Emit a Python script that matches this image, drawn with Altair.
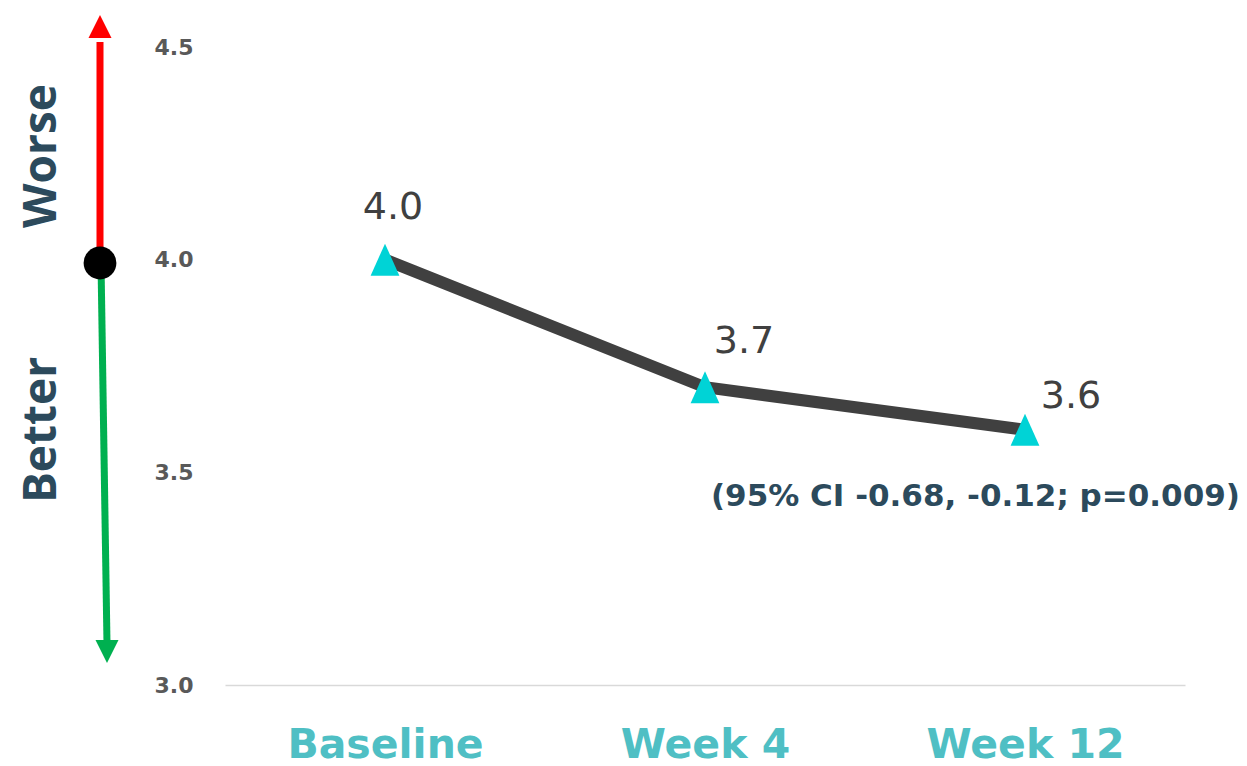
import altair as alt
import pandas as pd

visits = ["Baseline", "Week 4", "Week 12"]
scores = [4.0, 3.7, 3.6]
score_labels = ["4.0", "3.7", "3.6"]
y_ticks = [3.0, 3.5, 4.0, 4.5]
ci_note = "(95% CI -0.68, -0.12; p=0.009)"

df = pd.DataFrame({"visit": visits, "score": scores, "label": score_labels})
one = pd.DataFrame({"k": [0]})

x = alt.X(
    "visit:N", sort=visits,
    scale=alt.Scale(type="point", padding=0.5),
    axis=alt.Axis(title=None, labelAngle=0, labelFont="DejaVu Sans", labelFontSize=41,
                  labelFontWeight="bold", labelColor="#4FBFC4", labelPadding=40,
                  labelLimit=0, ticks=False, domainColor="#D9D9D9", domainWidth=1.5,
                  grid=False),
)
y = alt.Y(
    "score:Q",
    scale=alt.Scale(domain=[3.0, 4.5], nice=False, zero=False),
    axis=alt.Axis(title=None, values=y_ticks, format=".1f", labelFont="DejaVu Sans",
                  labelFontSize=22, labelFontWeight="bold", labelColor="#595959",
                  labelPadding=32, ticks=False, domain=False, grid=False),
)

base = alt.Chart(df)
line = base.mark_line(color="#404040", strokeWidth=12).encode(x=x, y=y)
pts = base.mark_point(shape="M0,-1L-0.9,1L0.9,1Z", size=1024, filled=True,
                      color="#00D3D6", opacity=1).encode(x=x, y=y)

def lab(name, dx, dy):
    return base.transform_filter(alt.datum.visit == name).mark_text(
        font="DejaVu Sans", fontSize=38, color="#404040", align="center",
        baseline="middle", dx=dx, dy=dy).encode(x=x, y=y, text="label:N")

labels = [lab("Baseline", 8, -52), lab("Week 4", 39, -45), lab("Week 12", 46, -33)]

note = alt.Chart(one).mark_text(
    text=ci_note, font="DejaVu Sans", fontSize=31, fontWeight="bold",
    color="#2C4A5C", align="right", baseline="middle"
).encode(x=alt.value(1015), y=alt.value(450))

oc = alt.Chart(one)
red_shaft = oc.mark_rule(color="#FF0000", strokeWidth=7).encode(
    x=alt.value(-125), x2=alt.value(-125), y=alt.value(216), y2=alt.value(-5))
red_head = oc.mark_point(shape="M0,-1L-1,1L1,1Z", size=529, filled=True,
                         color="#FF0000", opacity=1).encode(x=alt.value(-125), y=alt.value(-20.5))
green_shaft = oc.mark_rule(color="#00B050", strokeWidth=7).encode(
    x=alt.value(-124), x2=alt.value(-118), y=alt.value(216), y2=alt.value(597))
green_head = oc.mark_point(shape="M0,1L-1,-1L1,-1Z", size=529, filled=True,
                           color="#00B050", opacity=1).encode(x=alt.value(-118), y=alt.value(604.5))
dot = oc.mark_point(shape="circle", size=1075, filled=True, color="black",
                    opacity=1).encode(x=alt.value(-125), y=alt.value(216))

worse = oc.mark_text(text="Worse", font="Open Sans", fontSize=46, fontWeight="bold",
                     color="#2C4A5C", angle=270, align="center", baseline="middle"
                     ).encode(x=alt.value(-183), y=alt.value(109))
better = oc.mark_text(text="Better", font="Open Sans", fontSize=46, fontWeight="bold",
                      color="#2C4A5C", angle=270, align="center", baseline="middle"
                      ).encode(x=alt.value(-183), y=alt.value(383))

chart = alt.layer(
    line, pts, *labels, note, red_shaft, red_head, green_shaft, green_head, dot, worse, better
).properties(
    width=960, height=638,
    padding={"left": 225, "top": 47, "right": 62, "bottom": 81},
    autosize=alt.AutoSizeParams(type="none"),
    background="white",
).configure_view(stroke=None)

chart.save("out.html", embed_options={"renderer": "svg", "actions": False})
